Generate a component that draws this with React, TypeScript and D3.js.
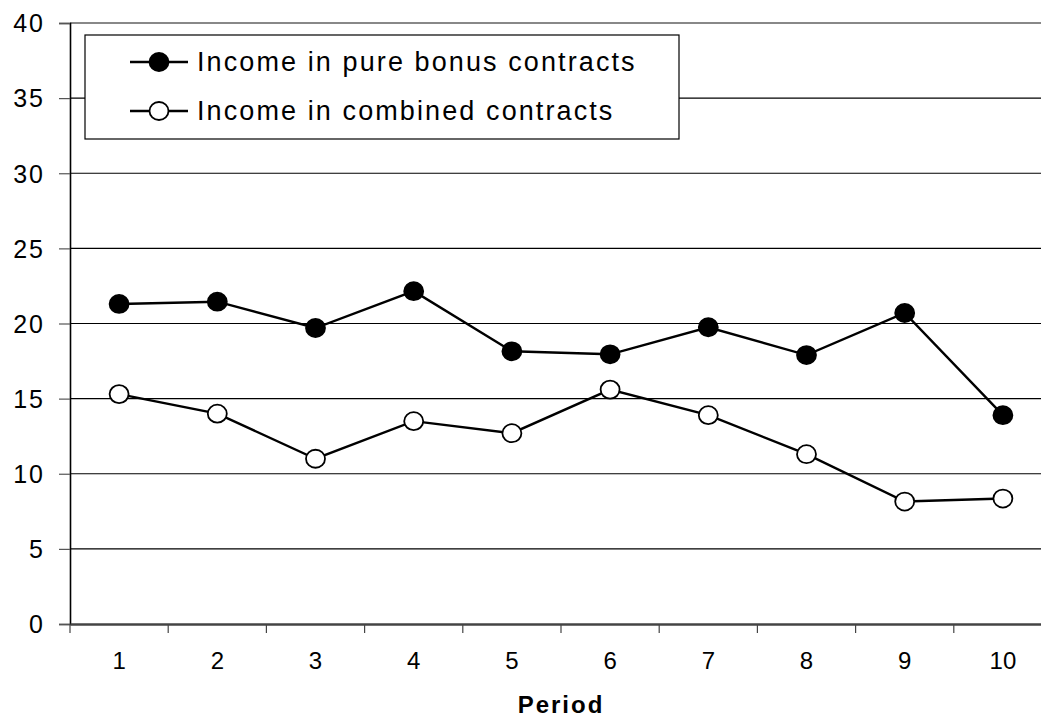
import React, { useEffect, useRef } from 'react';
import * as d3 from 'd3';

const periods = ['1', '2', '3', '4', '5', '6', '7', '8', '9', '10'];
const pureBonus = [21.3, 21.45, 19.7, 22.15, 18.15, 17.95, 19.75, 17.9, 20.7, 13.9];
const combined = [15.3, 14.0, 11.0, 13.5, 12.7, 15.6, 13.9, 11.3, 8.15, 8.35];
const yTicks = [0, 5, 10, 15, 20, 25, 30, 35, 40];
const seriesNames = ['Income in pure bonus contracts', 'Income in combined contracts'];

const W = 1041;
const H = 717;
const font = 'Liberation Sans, Arial, sans-serif';

const App = () => {
  const ref = useRef<SVGSVGElement>(null);

  useEffect(() => {
    const svg = d3.select(ref.current);
    svg.selectAll('*').remove();

    const x = d3.scaleBand().domain(periods).range([70, 1052]);
    const y = d3.scaleLinear().domain([0, 40]).range([624, 23]);

    // gridlines
    svg.append('g')
      .selectAll('line')
      .data(yTicks.filter(d => d > 0))
      .enter()
      .append('line')
      .attr('x1', 70)
      .attr('x2', 1052)
      .attr('y1', d => y(d))
      .attr('y2', d => y(d))
      .attr('stroke', d => (d === 40 ? '#888' : '#000'))
      .attr('stroke-width', d => (d === 40 ? 2 : 1.2));

    // y axis
    const yAxis = svg.append('g')
      .attr('transform', 'translate(70,0)')
      .call(d3.axisLeft(y).tickValues(yTicks).tickSize(11).tickPadding(14));
    yAxis.select('.domain').attr('stroke', '#000').attr('stroke-width', 1.6);
    yAxis.selectAll('.tick line').attr('stroke', '#555').attr('stroke-width', 1.2);
    yAxis.selectAll('text')
      .attr('font-family', font)
      .attr('font-size', 25)
      .attr('letter-spacing', 2)
      .attr('fill', '#000')
      .attr('dy', '0.35em');

    // x axis
    const xAxis = svg.append('g')
      .attr('transform', 'translate(0,624)')
      .call(d3.axisBottom(x).tickSize(0).tickPadding(28));
    xAxis.select('.domain').attr('stroke', '#444').attr('stroke-width', 2.5);
    xAxis.selectAll('text')
      .attr('font-family', font)
      .attr('font-size', 24)
      .attr('fill', '#000');
    // boundary ticks between categories
    svg.append('g')
      .selectAll('line')
      .data(periods)
      .enter()
      .append('line')
      .attr('x1', d => x(d)!)
      .attr('x2', d => x(d)!)
      .attr('y1', 624)
      .attr('y2', 633)
      .attr('stroke', '#444')
      .attr('stroke-width', 1.2);

    svg.append('text')
      .attr('x', 561)
      .attr('y', 713)
      .attr('text-anchor', 'middle')
      .attr('font-family', font)
      .attr('font-size', 24)
      .attr('font-weight', 'bold')
      .attr('letter-spacing', 2)
      .text('Period');

    const cx = (i: number) => x(periods[i])! + x.bandwidth() / 2;
    const line = d3.line<number>().x((d, i) => cx(i)).y(d => y(d));

    [pureBonus, combined].forEach((s, k) => {
      svg.append('path')
        .attr('d', line(s))
        .attr('fill', 'none')
        .attr('stroke', '#000')
        .attr('stroke-width', 2.4);
      svg.append('g')
        .selectAll('ellipse')
        .data(s)
        .enter()
        .append('ellipse')
        .attr('cx', (d, i) => cx(i))
        .attr('cy', d => y(d))
        .attr('rx', 9.5)
        .attr('ry', 9)
        .attr('fill', k === 0 ? '#000' : '#fff')
        .attr('stroke', '#000')
        .attr('stroke-width', 1.8);
    });

    // legend
    const lg = svg.append('g');
    lg.append('rect')
      .attr('x', 85)
      .attr('y', 35)
      .attr('width', 594)
      .attr('height', 104)
      .attr('fill', '#fff')
      .attr('stroke', '#000')
      .attr('stroke-width', 1.2);
    seriesNames.forEach((name, k) => {
      const ly = k === 0 ? 62 : 111;
      lg.append('line')
        .attr('x1', 130)
        .attr('x2', 188)
        .attr('y1', ly)
        .attr('y2', ly)
        .attr('stroke', '#000')
        .attr('stroke-width', 2.4);
      lg.append('ellipse')
        .attr('cx', 159)
        .attr('cy', ly)
        .attr('rx', 9.5)
        .attr('ry', 9)
        .attr('fill', k === 0 ? '#000' : '#fff')
        .attr('stroke', '#000')
        .attr('stroke-width', 1.8);
      lg.append('text')
        .attr('x', 197)
        .attr('y', ly)
        .attr('dy', '0.35em')
        .attr('font-family', font)
        .attr('font-size', 27)
        .attr('letter-spacing', 2.1)
        .text(name);
    });
  }, []);

  return (
    <svg
      ref={ref}
      width={W}
      height={H}
      style={{ position: 'absolute', left: 0, top: 0, background: '#fff', overflow: 'hidden' }}
    />
  );
};

export default App;
